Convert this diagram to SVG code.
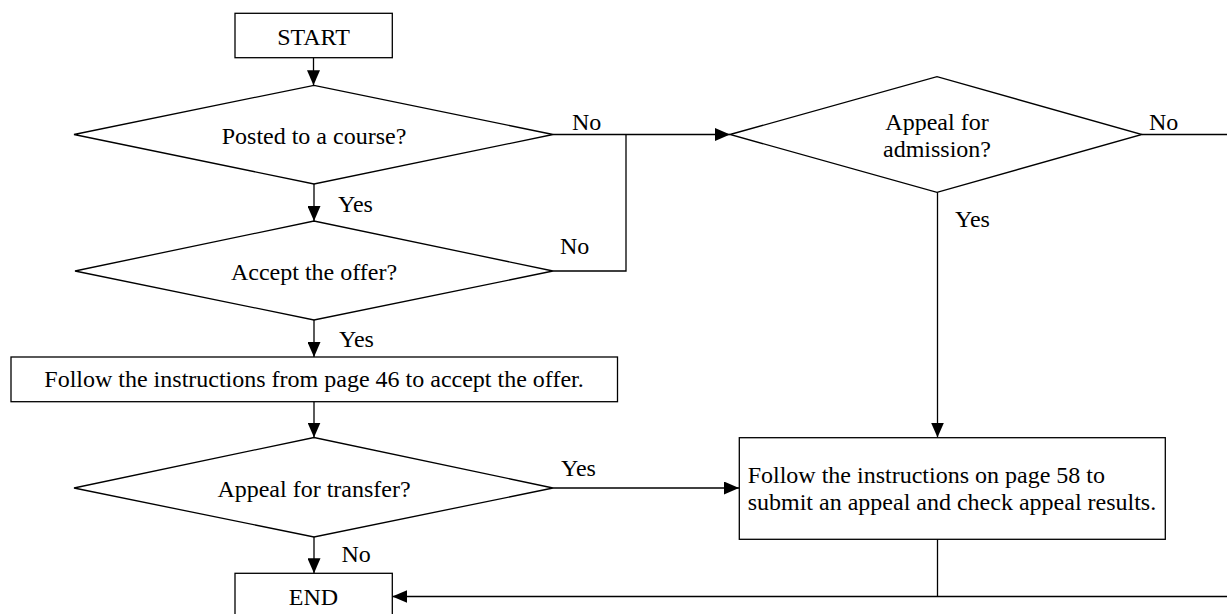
<svg xmlns="http://www.w3.org/2000/svg" width="1227" height="614" viewBox="0 0 1227 614">
<style>
  .shape { fill: #ffffff; stroke: #000000; stroke-width: 1.3; }
  .conn { fill: none; stroke: #000000; stroke-width: 1.3; }
  .t { font-family: "Liberation Serif", "Times New Roman", serif; font-size: 24px; fill: #000000; }
  .c { text-anchor: middle; }
</style>
<defs>
  <marker id="arrow" viewBox="0 0 15 13" refX="15" refY="6.5" markerWidth="15" markerHeight="13" markerUnits="userSpaceOnUse" orient="auto">
    <path d="M0,0 L15,6.5 L0,13 z" fill="#000000"/>
  </marker>
</defs>
<rect width="1227" height="614" fill="#ffffff"/>

<g id="connectors">
  <path class="conn" d="M313.5,57.7 V85.3" marker-end="url(#arrow)"/>
  <path class="conn" d="M314,184 V221" marker-end="url(#arrow)"/>
  <path class="conn" d="M314,320 V357" marker-end="url(#arrow)"/>
  <path class="conn" d="M314,401.7 V437.5" marker-end="url(#arrow)"/>
  <path class="conn" d="M314,537 V573.3" marker-end="url(#arrow)"/>
  <path class="conn" d="M553,134.5 H730" marker-end="url(#arrow)"/>
  <path class="conn" d="M553,271 H626 V134.5"/>
  <path class="conn" d="M937.5,192 V437.5" marker-end="url(#arrow)"/>
  <path class="conn" d="M553,488 H739" marker-end="url(#arrow)"/>
  <path class="conn" d="M1142,134.5 H1240 V596.5 H392.3" marker-end="url(#arrow)"/>
  <path class="conn" d="M937.5,539.3 V596.5"/>
  <text class="t" x="572" y="129.5">No</text>
  <text class="t" x="560" y="254">No</text>
  <text class="t" x="338" y="211.5">Yes</text>
  <text class="t" x="339" y="346.5">Yes</text>
  <text class="t" x="561" y="476">Yes</text>
  <text class="t" x="341.5" y="561.5">No</text>
  <text class="t" x="1149" y="129.5">No</text>
  <text class="t" x="955" y="226.5">Yes</text>
</g>

<g id="start">
  <rect class="shape" x="235" y="13.3" width="157.3" height="44.4"/>
  <text class="t c" x="313.5" y="45">START</text>
</g>

<g id="posted">
  <polygon class="shape" points="74,134.5 314,85.3 553,134.5 314,184"/>
  <text class="t c" x="314" y="144">Posted to a course?</text>
</g>

<g id="accept">
  <polygon class="shape" points="75,271 314,221 553,271 314,320"/>
  <text class="t c" x="314" y="280">Accept the offer?</text>
</g>

<g id="follow46">
  <rect class="shape" x="11" y="357" width="606.5" height="44.7"/>
  <text class="t c" x="314" y="387.3">Follow the instructions from page 46 to accept the offer.</text>
</g>

<g id="transfer">
  <polygon class="shape" points="74,488 314,437.5 553,488 314,537"/>
  <text class="t c" x="314" y="496.7">Appeal for transfer?</text>
</g>

<g id="end">
  <rect class="shape" x="235" y="573.3" width="157.3" height="44.4"/>
  <text class="t c" x="313.5" y="605">END</text>
</g>

<g id="admission">
  <polygon class="shape" points="730,134.5 937,76.7 1142,134.5 937,192.3"/>
  <text class="t c" x="937" y="130">Appeal for</text>
  <text class="t c" x="937" y="157">admission?</text>
</g>

<g id="follow58">
  <rect class="shape" x="739.3" y="437.7" width="426" height="101.6"/>
  <text class="t" x="747.7" y="483.3">Follow the instructions on page 58 to</text>
  <text class="t" x="747.7" y="510.3">submit an appeal and check appeal results.</text>
</g>
</svg>
